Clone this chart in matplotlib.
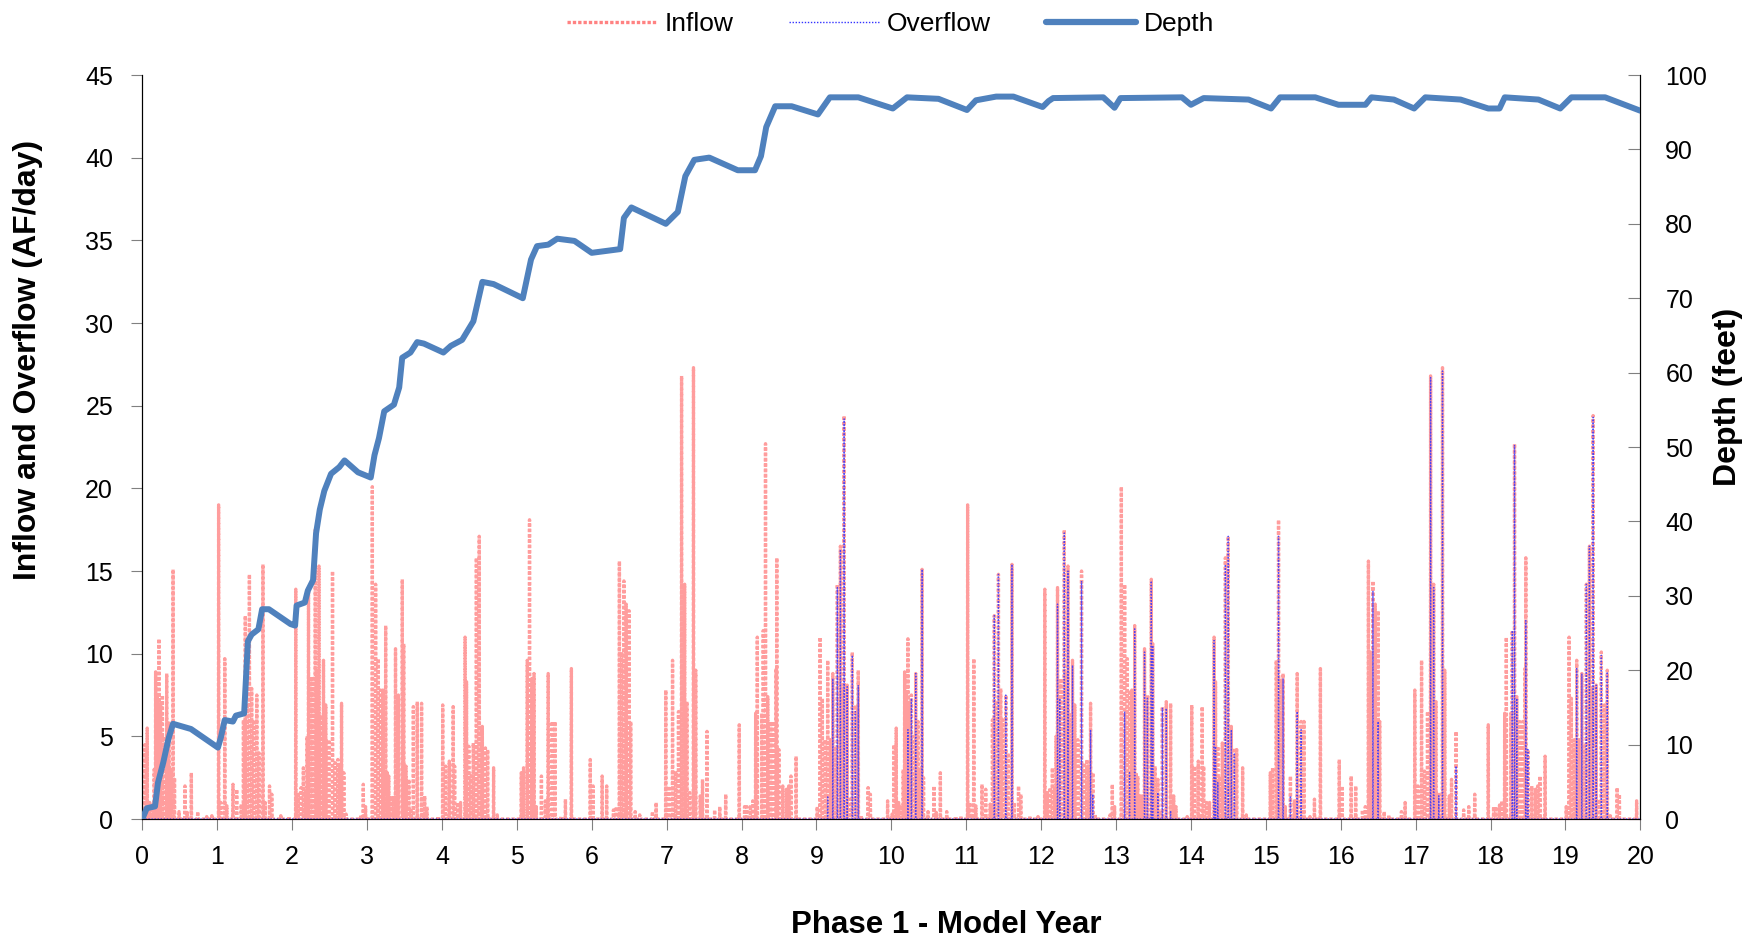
import numpy as np
import matplotlib
matplotlib.use("Agg")
import matplotlib.pyplot as plt
from matplotlib.lines import Line2D

plt.rcParams['font.family'] = ['Liberation Sans', 'DejaVu Sans']

# ---------------- data ----------------
# Inflow storm events (year within a 10-year hydrology sequence, AF/day)
inflow_event_years = [
    0.01, 0.036, 0.067, 0.10, 0.134, 0.16, 0.179, 0.20, 0.223, 0.245, 0.268, 0.29, 0.326, 0.34, 0.357,
    0.38, 0.41, 0.43, 0.49, 0.57, 0.60, 0.655, 0.74, 0.86, 0.93,
    1.018, 1.05, 1.10, 1.13, 1.21, 1.26, 1.32, 1.35, 1.375, 1.40, 1.43, 1.46, 1.49, 1.53, 1.56, 1.61,
    1.64, 1.70, 1.73, 1.85, 1.96,
    2.05, 2.08, 2.12, 2.15, 2.18, 2.20, 2.22, 2.25, 2.28, 2.31, 2.33, 2.36, 2.39, 2.42, 2.45, 2.49,
    2.54, 2.575, 2.61, 2.63, 2.66, 2.69, 2.72, 2.92, 2.95, 2.98,
    3.07, 3.115, 3.15, 3.18, 3.21, 3.25, 3.27, 3.29, 3.33, 3.36, 3.38, 3.42, 3.47, 3.49, 3.52, 3.56,
    3.59, 3.62, 3.67, 3.73, 3.77, 3.80, 3.95,
    4.01, 4.05, 4.10, 4.15, 4.17, 4.21, 4.25, 4.31, 4.33, 4.36, 4.39, 4.42, 4.46, 4.50, 4.54, 4.58,
    4.61, 4.69, 4.74,
    5.06, 5.09, 5.14, 5.17, 5.20, 5.23, 5.26, 5.33, 5.38, 5.42, 5.47, 5.51, 5.59, 5.65, 5.73, 5.98,
    6.02, 6.14, 6.20, 6.29, 6.33, 6.37, 6.40, 6.43, 6.46, 6.50, 6.52, 6.58, 6.64, 6.81, 6.86, 6.99,
    7.03, 7.08, 7.12, 7.16, 7.20, 7.24, 7.27, 7.31, 7.36, 7.39, 7.45, 7.48, 7.54, 7.64, 7.71, 7.79, 7.97,
    8.04, 8.07, 8.12, 8.15, 8.19, 8.21, 8.27, 8.29, 8.32, 8.35, 8.39, 8.43, 8.46, 8.47, 8.50, 8.55,
    8.60, 8.63, 8.66, 8.73,
    9.01, 9.05, 9.08, 9.12, 9.15, 9.19, 9.22, 9.25, 9.28, 9.32, 9.34, 9.37, 9.41, 9.45, 9.48, 9.52,
    9.56, 9.60, 9.69, 9.72, 9.95,
]
inflow_event_afd = [
    0.3, 4.5, 5.5, 1.0, 0.85, 3.0, 8.9, 7.5, 10.9, 7.0, 7.5, 5.0, 8.8, 4.0, 5.9,
    3.0, 15.1, 2.5, 0.45, 2.0, 0.4, 2.8, 0.45, 0.15, 0.2,
    19.0, 1.0, 9.7, 0.8, 2.1, 1.8, 0.9, 6.0, 12.3, 7.0, 14.8, 7.9, 6.0, 7.5, 4.0, 15.4,
    1.0, 2.0, 1.5, 0.2, 0.15,
    13.9, 1.6, 1.9, 3.1, 1.8, 5.0, 14.0, 8.5, 8.5, 17.5, 8.9, 15.3, 6.3, 9.6, 6.9, 4.8,
    15.0, 3.4, 3.6, 3.2, 7.0, 2.8, 0.3, 0.25, 2.1, 0.75,
    20.1, 14.2, 9.7, 7.8, 7.8, 11.7, 2.8, 2.6, 1.4, 1.4, 10.3, 7.5, 14.5, 10.6, 3.2, 2.4,
    0.5, 6.8, 7.1, 7.0, 1.4, 0.75, 0.15,
    6.9, 3.2, 3.5, 6.8, 3.2, 1.0, 1.0, 11.0, 8.3, 4.4, 2.6, 4.6, 15.8, 17.1, 5.6, 4.3,
    4.2, 3.1, 0.25,
    2.8, 3.1, 9.6, 18.1, 8.5, 8.8, 0.75, 2.6, 1.1, 8.8, 5.9, 5.9, 0.15, 1.2, 9.1, 3.6,
    2.0, 2.6, 2.0, 0.55, 0.75, 15.6, 10.1, 14.4, 13.0, 12.6, 5.9, 0.45, 0.25, 0.45, 1.0, 7.8,
    2.0, 9.6, 2.9, 6.5, 26.8, 14.2, 7.1, 1.6, 27.3, 9.0, 1.4, 2.4, 5.3, 0.55, 0.75, 1.5, 5.7,
    0.75, 0.75, 0.85, 1.1, 6.4, 11.0, 6.4, 11.4, 22.7, 7.4, 5.9, 5.9, 9.1, 15.8, 4.2, 2.0,
    1.8, 2.0, 2.6, 3.8,
    0.75, 11.0, 7.3, 4.8, 9.6, 4.8, 8.8, 4.4, 14.2, 16.5, 7.9, 24.4, 8.1, 1.2, 10.1, 6.9,
    9.0, 0.2, 1.9, 1.5, 1.1,
]
hydrology_cycles = [0, 10]          # the 10-year inflow sequence is run twice

# Overflow events (model year, AF/day)
overflow_event_years = [
    9.15, 9.22, 9.28, 9.32, 9.37, 9.41, 9.48, 9.52, 9.56,
    10.223, 10.268, 10.326, 10.41,
    11.375, 11.43, 11.53, 11.61,
    12.22, 12.25, 12.31, 12.36, 12.42, 12.54, 12.66, 12.69,
    13.115, 13.18, 13.25, 13.38, 13.42, 13.47, 13.49, 13.56, 13.62, 13.67, 13.73,
    14.31, 14.33, 14.36, 14.46, 14.50, 14.54, 14.58,
    15.17, 15.23, 15.33, 15.42, 15.47,
    16.43, 16.50,
    17.20, 17.24, 17.31, 17.36, 17.54,
    18.29, 18.32, 18.35, 18.47, 18.50,
    19.15, 19.22, 19.28, 19.32, 19.37, 19.41, 19.48, 19.56,
]
overflow_event_afd = [
    1.4, 8.5, 14.0, 16.3, 24.2, 8.0, 9.9, 6.5, 8.1,
    5.4, 7.3, 8.8, 15.1,
    12.3, 14.8, 7.5, 15.4,
    13.0, 7.3, 17.3, 15.0, 9.3, 14.4, 5.4, 1.5,
    6.5, 2.8, 11.5, 10.1, 7.3, 14.4, 10.5, 1.6, 6.7, 6.7, 0.5,
    10.8, 4.4, 2.2, 15.4, 17.1, 5.4, 4.0,
    17.1, 8.5, 1.4, 6.5, 5.4,
    13.8, 5.9,
    26.7, 14.0, 1.4, 27.1, 3.2,
    11.4, 22.6, 7.3, 12.0, 4.2,
    9.1, 8.8, 14.2, 16.5, 24.3, 8.1, 9.9, 8.9,
]

# Reservoir depth (model year, feet)
depth_year = [
    0.0, 0.06, 0.17, 0.21, 0.28, 0.35, 0.41, 0.65, 1.01, 1.05, 1.10, 1.21, 1.25, 1.36, 1.41, 1.46,
    1.55, 1.60, 1.69, 1.98, 2.04, 2.06, 2.17, 2.21, 2.28, 2.32, 2.37, 2.43, 2.52, 2.63, 2.70, 2.88,
    3.05, 3.10, 3.16, 3.23, 3.36, 3.43, 3.47, 3.58, 3.67, 3.76, 4.02, 4.12, 4.27, 4.42, 4.54, 4.69,
    5.08, 5.19, 5.27, 5.42, 5.54, 5.77, 6.0, 6.38, 6.43, 6.53, 6.99, 7.15, 7.25, 7.37, 7.57, 7.95,
    8.18, 8.26, 8.33, 8.45, 8.67, 9.02, 9.18, 9.56, 10.02, 10.21, 10.63, 11.01, 11.13, 11.40, 11.63,
    12.02, 12.10, 12.16, 12.83, 12.98, 13.06, 13.88, 14.0, 14.17, 14.77, 15.07, 15.19, 15.66, 15.97,
    16.33, 16.41, 16.71, 16.98, 17.13, 17.6, 17.97, 18.12, 18.19, 18.64, 18.93, 19.08, 19.53, 20.0,
]
depth_ft = [
    0.0, 1.45, 1.7, 4.9, 7.6, 10.8, 12.8, 12.1, 9.6, 11.0, 13.3, 13.1, 13.9, 14.2, 23.9, 24.8,
    25.5, 28.2, 28.2, 26.2, 26.0, 28.7, 29.1, 30.7, 32.1, 38.4, 41.6, 44.1, 46.4, 47.3, 48.2, 46.6,
    45.9, 48.9, 51.2, 54.8, 55.7, 58.0, 62.0, 62.7, 64.1, 63.9, 62.7, 63.6, 64.4, 66.9, 72.2, 71.9,
    70.0, 75.2, 77.0, 77.2, 78.0, 77.7, 76.1, 76.6, 80.8, 82.2, 80.0, 81.6, 86.4, 88.6, 88.9, 87.2,
    87.2, 89.1, 93.0, 95.8, 95.8, 94.7, 97.0, 97.0, 95.5, 97.0, 96.8, 95.3, 96.6, 97.1, 97.1,
    95.7, 96.5, 96.9, 97.0, 95.6, 96.9, 97.0, 96.0, 96.9, 96.7, 95.5, 97.0, 97.0, 96.0,
    96.0, 97.0, 96.7, 95.5, 97.0, 96.7, 95.5, 95.5, 97.0, 96.7, 95.5, 97.0, 97.0, 95.2,
]

x_ticks = list(range(0, 21))
left_ticks = list(range(0, 46, 5))
right_ticks = list(range(0, 101, 10))

# ---------------- daily series built from the event lists ----------------
days_per_year = 365
n_days = 20 * days_per_year + 1
day_x = np.arange(n_days) / days_per_year
inflow_daily = np.zeros(n_days)
for off in hydrology_cycles:
    for yr, v in zip(inflow_event_years, inflow_event_afd):
        i = int(round((yr + off) * days_per_year))
        if 0 <= i < n_days:
            inflow_daily[i] = max(inflow_daily[i], v)
overflow_daily = np.zeros(n_days)
for yr, v in zip(overflow_event_years, overflow_event_afd):
    i = int(round(yr * days_per_year))
    overflow_daily[i] = max(overflow_daily[i], v)

# ---------------- figure ----------------
fig = plt.figure(figsize=(17.48, 9.40), dpi=100)
ax = fig.add_axes([0.0814, 0.1287, 0.857, 0.7915])
ax2 = ax.twinx()

inflow_color = (1.0, 0.30, 0.30)
overflow_color = (0.2, 0.2, 1.0)
depth_color = '#4F81BD'

ax.plot(day_x, inflow_daily, color=inflow_color, lw=2.4, alpha=0.55,
        linestyle=(0, (1, 0.6)), zorder=2)
ax.plot(day_x, overflow_daily, color=overflow_color, lw=1.0, alpha=0.85,
        linestyle=(0, (1, 1.2)), zorder=3)
ax2.plot(depth_year, depth_ft, color=depth_color, lw=4.3, solid_capstyle='round',
         solid_joinstyle='round', zorder=4)

ax.set_xlim(0, 20)
ax.set_ylim(0, 45)
ax2.set_ylim(0, 100)
ax.set_xticks(x_ticks)
ax.set_yticks(left_ticks)
ax2.set_yticks(right_ticks)

for a in (ax, ax2):
    a.spines['top'].set_visible(False)
    a.patch.set_visible(False)
ax.spines['left'].set_color('black')
ax.spines['bottom'].set_color('#800020')
ax2.spines['right'].set_color('black')
ax.tick_params(axis='x', direction='out', length=8, color='#808080', labelsize=18, pad=11)
ax.tick_params(axis='y', direction='out', length=8, color='#808080', labelsize=18, pad=13)
ax2.tick_params(axis='y', direction='in', length=9, color='#808080', labelsize=18, pad=18)

ax.set_xlabel('Phase 1 - Model Year', fontsize=22.5, fontweight='bold')
ax.set_ylabel('Inflow and Overflow (AF/day)', fontsize=23, fontweight='bold')
ax2.set_ylabel('Depth (feet)', fontsize=23, fontweight='bold')
ax.xaxis.set_label_coords(0.537, -0.1425)
ax.xaxis.label.set_va('center')
ax.yaxis.set_label_coords(-0.0763, 0.617)
ax.yaxis.label.set_va('center')
ax2.yaxis.set_label_coords(1.0588, 0.568)
ax2.yaxis.label.set_va('center')

handles = [
    Line2D([], [], color=inflow_color, lw=2.4, alpha=0.7, linestyle=(0, (1, 0.6))),
    Line2D([], [], color=overflow_color, lw=1.0, linestyle=(0, (1, 1.2))),
    Line2D([], [], color=depth_color, lw=4.5, solid_capstyle='round'),
]
fig.legend(handles, ['Inflow', 'Overflow', 'Depth'], loc='center',
           bbox_to_anchor=(0.5097, 0.974), ncol=3, frameon=False, fontsize=19,
           handlelength=3.4, handletextpad=0.3, columnspacing=2.1)

fig.savefig('out.png', dpi=100)
